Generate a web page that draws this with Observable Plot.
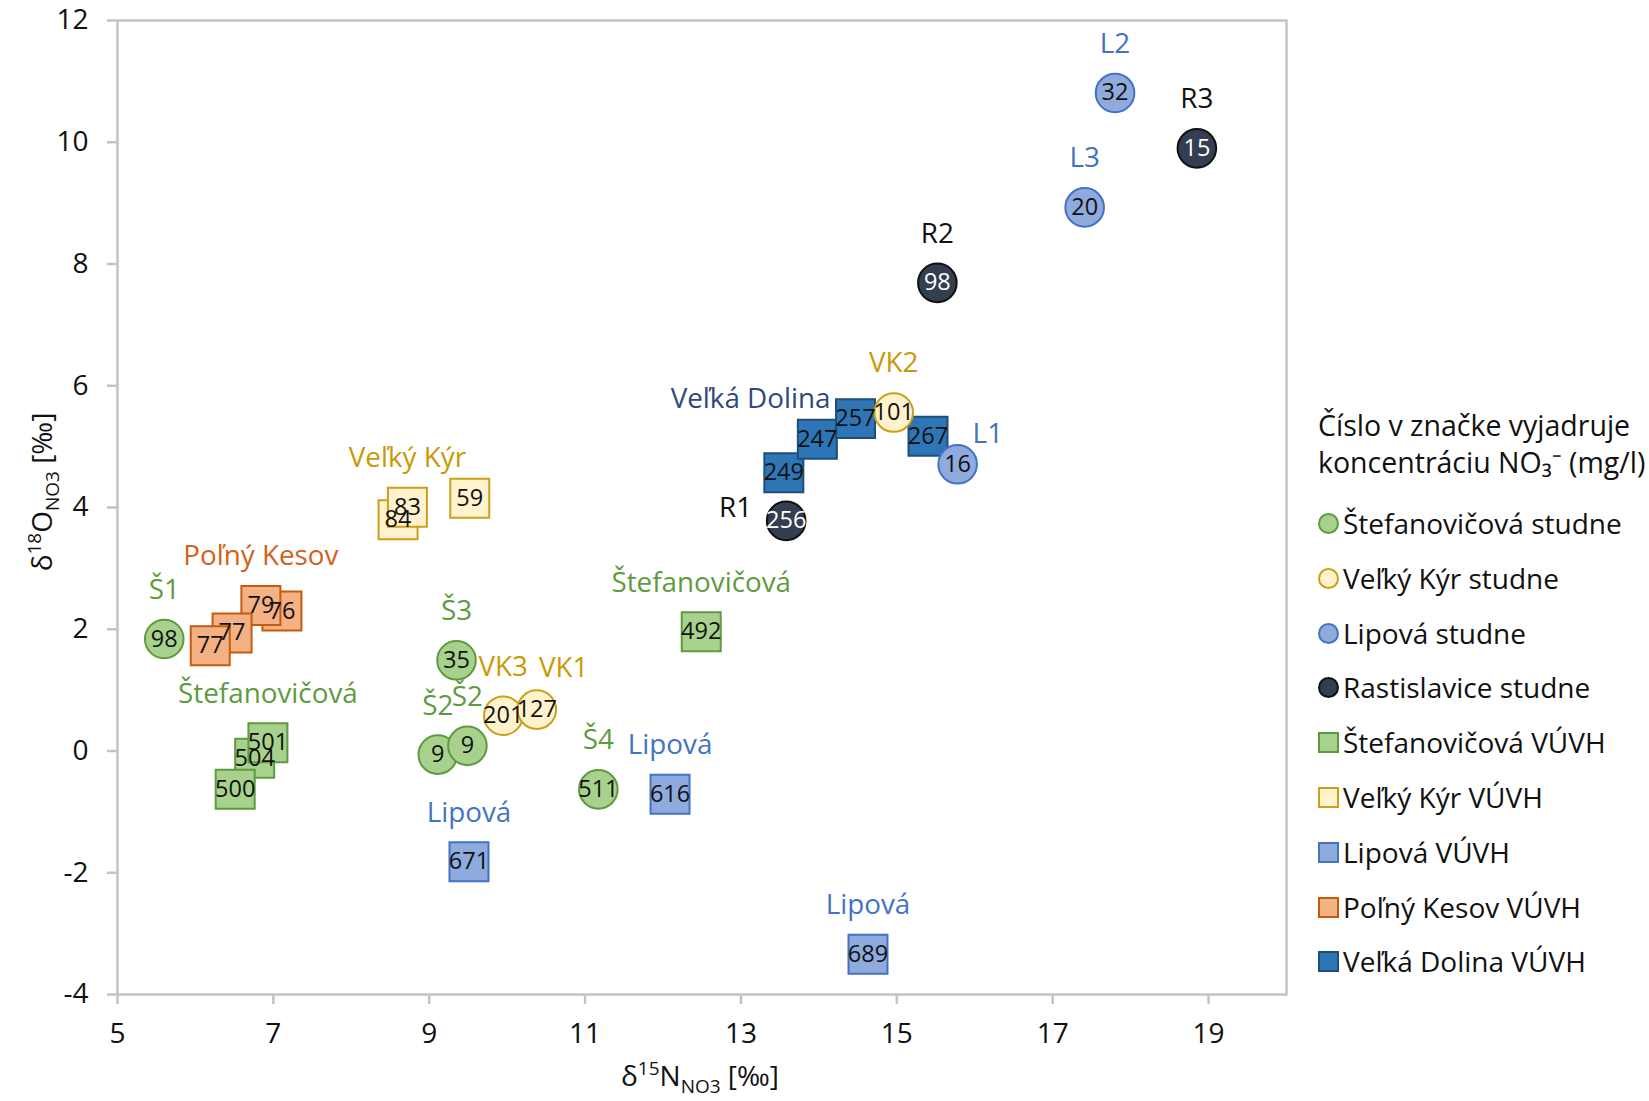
<!DOCTYPE html>
<html>
<head>
<meta charset="utf-8">
<script src="https://cdn.jsdelivr.net/npm/d3@7"></script>
<script src="https://cdn.jsdelivr.net/npm/@observablehq/plot@0.6"></script>
<style>
  html, body { margin: 0; padding: 0; background: #fff; }
  #wrap { position: relative; width: 1649px; height: 1101px; overflow: hidden; font-family: "Open Sans", sans-serif; color: #111; }
  #chart { position: absolute; left: 0; top: 0; }
  #legend { position: absolute; left: 1318px; top: 0; width: 331px; }
  #legend .title { position: absolute; left: 0; top: 407px; font-size: 28.5px; line-height: 37px; white-space: nowrap; }
  #legend .item { position: absolute; left: 0; height: 36px; line-height: 36px; font-size: 28px; white-space: nowrap; }
  #legend .sw { position: absolute; left: 0; top: 8px; width: 17px; height: 17px; box-sizing: content-box; }
  #legend .lbl { position: absolute; left: 25px; top: 0; }
</style>
</head>
<body>
<div id="wrap">
  <div id="chart"></div>
  <div id="legend"></div>
</div>
<script>
// ---- Data: δ15N / δ18O of nitrate, number = NO3- concentration (mg/l) ----
const seriesNames = [
  "Štefanovičová studne", "Veľký Kýr studne", "Lipová studne", "Rastislavice studne",
  "Štefanovičová VÚVH", "Veľký Kýr VÚVH", "Lipová VÚVH", "Poľný Kesov VÚVH", "Veľká Dolina VÚVH"
];

const stefStudneN = [5.60, 9.35, 9.11, 9.49, 11.17];
const stefStudneO = [1.84, 1.49, -0.06, 0.085, -0.63];
const stefStudneNO3 = [98, 35, 9, 9, 511];
const stefStudneLabels = ["Š1", "Š3", "Š2", "Š2", "Š4"];

const vkStudneN = [9.95, 10.38, 14.96];
const vkStudneO = [0.58, 0.68, 5.56];
const vkStudneNO3 = [201, 127, 101];
const vkStudneLabels = ["VK3", "VK1", "VK2"];

const lipStudneN = [17.80, 17.41, 15.78];
const lipStudneO = [10.81, 8.93, 4.71];
const lipStudneNO3 = [32, 20, 16];
const lipStudneLabels = ["L2", "L3", "L1"];

const rastStudneN = [18.85, 15.52, 13.58];
const rastStudneO = [9.90, 7.69, 3.78];
const rastStudneNO3 = [15, 98, 256];
const rastStudneLabels = ["R3", "R2", "R1"];

const stefVuvhN = [12.49, 6.76, 6.93, 6.51];
const stefVuvhO = [1.96, -0.12, 0.135, -0.63];
const stefVuvhNO3 = [492, 504, 501, 500];
const stefVuvhLabels = ["Štefanovičová", "", "Štefanovičová", ""];

const vkVuvhN = [8.60, 8.72, 9.52];
const vkVuvhO = [3.80, 4.005, 4.15];
const vkVuvhNO3 = [84, 83, 59];
const vkVuvhLabels = ["", "Veľký Kýr", ""];

const lipVuvhN = [12.09, 9.51, 14.63];
const lipVuvhO = [-0.71, -1.82, -3.34];
const lipVuvhNO3 = [616, 671, 689];
const lipVuvhLabels = ["Lipová", "Lipová", "Lipová"];

const pkVuvhN = [7.11, 6.84, 6.47, 6.19];
const pkVuvhO = [2.30, 2.39, 1.94, 1.73];
const pkVuvhNO3 = [76, 79, 77, 77];
const pkVuvhLabels = ["", "Poľný Kesov", "", ""];

const vdVuvhN = [13.55, 13.98, 14.47, 15.40];
const vdVuvhO = [4.57, 5.12, 5.46, 5.17];
const vdVuvhNO3 = [249, 247, 257, 267];
const vdVuvhLabels = ["", "", "Veľká Dolina", ""];

const xTicks = [5, 7, 9, 11, 13, 15, 17, 19];
const yTicks = [-4, -2, 0, 2, 4, 6, 8, 10, 12];

const legendTitle = ["Číslo v značke vyjadruje", "koncentráciu NO₃⁻ (mg/l)"];

// ---- Styling per series ----
const seriesStyle = [
  {symbol: "circle", fill: "#a9d18e", stroke: "#5e9b40", num: "#111", lab: "#5e9b40"},
  {symbol: "circle", fill: "#fff2cc", stroke: "#c9a01a", num: "#111", lab: "#c99a06"},
  {symbol: "circle", fill: "#8faadc", stroke: "#4472c4", num: "#111", lab: "#4472c4"},
  {symbol: "circle", fill: "#333f50", stroke: "#111", num: "#fff", lab: "#111"},
  {symbol: "square", fill: "#a9d18e", stroke: "#5e9b40", num: "#111", lab: "#5e9b40"},
  {symbol: "square", fill: "#fff2cc", stroke: "#c9a01a", num: "#111", lab: "#c99a06"},
  {symbol: "square", fill: "#8faadc", stroke: "#4472c4", num: "#111", lab: "#4472c4"},
  {symbol: "square", fill: "#f4b183", stroke: "#c55a11", num: "#111", lab: "#d0621c"},
  {symbol: "square", fill: "#2e75b6", stroke: "#1f4e79", num: "#111", lab: "#2e4a7d"}
];

const seriesData = [
  [stefStudneN, stefStudneO, stefStudneNO3, stefStudneLabels],
  [vkStudneN, vkStudneO, vkStudneNO3, vkStudneLabels],
  [lipStudneN, lipStudneO, lipStudneNO3, lipStudneLabels],
  [rastStudneN, rastStudneO, rastStudneNO3, rastStudneLabels],
  [stefVuvhN, stefVuvhO, stefVuvhNO3, stefVuvhLabels],
  [vkVuvhN, vkVuvhO, vkVuvhNO3, vkVuvhLabels],
  [lipVuvhN, lipVuvhO, lipVuvhNO3, lipVuvhLabels],
  [pkVuvhN, pkVuvhO, pkVuvhNO3, pkVuvhLabels],
  [vdVuvhN, vdVuvhO, vdVuvhNO3, vdVuvhLabels]
];

const points = [];
seriesData.forEach(([xs, ys, cs, ls], i) => {
  xs.forEach((x, j) => points.push({
    series: seriesNames[i], s: i, x, y: ys[j], no3: cs[j], label: ls[j], ...seriesStyle[i]
  }));
});

// squares underneath, circles on top
const squares = points.filter(d => d.symbol === "square");
const circles = points.filter(d => d.symbol === "circle");

// label placement: default centred above the marker
const above = {dx: 0, dy: -49, textAnchor: "middle"};
const placements = {
  "Veľká Dolina": {dx: -25, dy: -20, textAnchor: "end"},
  "R1": {dx: -34, dy: -13, textAnchor: "end"},
  "L1": {dx: 15, dy: -30, textAnchor: "start"},
  "VK1": {dx: 27, dy: -42, textAnchor: "middle"}
};

const FONT = "'Open Sans', sans-serif";
const labelMarks = points.filter(d => d.label).map(d =>
  Plot.text([d], {x: "x", y: "y", text: "label", fill: d.lab, fontSize: 27.8, fontFamily: FONT,
    ...(placements[d.label] || above)})
);

const plot = Plot.plot({
  width: 1300,
  height: 1101,
  marginLeft: 117,
  marginRight: 14,
  marginTop: 20,
  marginBottom: 107,
  style: {fontFamily: FONT, fontSize: "28px", color: "#111", background: "transparent"},
  x: {domain: [5, 20]},
  y: {domain: [-4, 12]},
  marks: [
    Plot.frame({stroke: "#c4c4c4", strokeWidth: 2.5}),
    Plot.axisX({ticks: xTicks, tickSize: 10, tickPadding: 19, stroke: "#c4c4c4", strokeWidth: 2.5,
      fill: "#111", fontSize: 28, label: null, tickFormat: d => String(d)}),
    Plot.axisY({ticks: yTicks, tickSize: 10, tickPadding: 19, stroke: "#c4c4c4", strokeWidth: 2.5,
      fill: "#111", fontSize: 28, label: null, tickFormat: d => String(d)}),
    Plot.dot(squares, {x: "x", y: "y", symbol: "square", r: 22, fill: d => d.fill, stroke: d => d.stroke, strokeWidth: 2}),
    Plot.dot(circles, {x: "x", y: "y", symbol: "circle", r: 19.3, fill: d => d.fill, stroke: d => d.stroke, strokeWidth: 2}),
    Plot.text(points, {x: "x", y: "y", text: "no3", fill: d => d.num, fontSize: 23.5, fontFamily: FONT}),
    ...labelMarks
  ]
});

document.getElementById("chart").appendChild(plot);

// axis titles with super/subscripts
const svg = d3.select(plot);
function richTitle(g, parts, size) {
  const small = Math.round(size * 0.68);
  let shift = 0;
  parts.forEach(p => {
    const target = p.sup ? -size * 0.38 : p.sub ? size * 0.26 : 0;
    g.append("tspan")
      .attr("dy", target - shift)
      .attr("font-size", p.sup || p.sub ? small : size)
      .text(p.t);
    shift = target;
  });
}
const xTitle = svg.append("text")
  .attr("x", 700).attr("y", 1086)
  .attr("text-anchor", "middle")
  .attr("font-family", FONT).attr("fill", "#111");
richTitle(xTitle, [{t: "δ"}, {t: "15", sup: true}, {t: "N"}, {t: "NO3", sub: true}, {t: " [‰]"}], 28);

const yTitle = svg.append("text")
  .attr("transform", "translate(52,492) rotate(-90)")
  .attr("text-anchor", "middle")
  .attr("font-family", FONT).attr("fill", "#111");
richTitle(yTitle, [{t: "δ"}, {t: "18", sup: true}, {t: "O"}, {t: "NO3", sub: true}, {t: " [‰]"}], 28);

// legend
const legend = d3.select("#legend");
legend.append("div").attr("class", "title").html(legendTitle.join("<br>"));
seriesNames.forEach((name, i) => {
  const st = seriesStyle[i];
  const item = legend.append("div").attr("class", "item").style("top", (505 + i * 54.8) + "px");
  item.append("span").attr("class", "sw")
    .style("background", st.fill)
    .style("border", `2px solid ${st.stroke}`)
    .style("border-radius", st.symbol === "circle" ? "50%" : "0");
  item.append("span").attr("class", "lbl").text(name);
});
</script>
</body>
</html>
